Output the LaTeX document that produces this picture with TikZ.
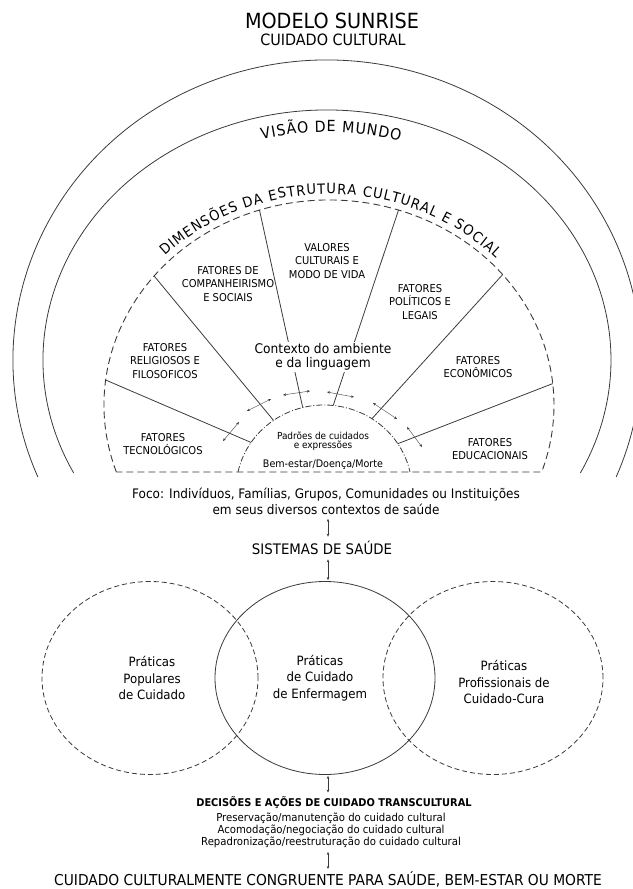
\documentclass[tikz,border=0pt]{standalone}
\usepackage{fontspec}
\setmainfont{DejaVu Sans}[FakeStretch=0.92]
\usetikzlibrary{arrows.meta,decorations.text,calc,shapes.geometric}

\begin{document}
\begin{tikzpicture}[x=1pt, y=-1pt,
    arcLine/.style={draw=lineColour, line width=0.8pt},
    dimLine/.style={draw=lineColour, line width=0.9pt, dash pattern=on 7pt off 4pt},
    careLine/.style={draw=lineColour, line width=0.8pt, dash pattern=on 6pt off 2pt on 1pt off 2pt},
    spoke/.style={draw=lineColour, line width=0.8pt},
    tinyArrow/.style={draw=lineColour, line width=0.4pt, {Stealth[length=3pt,width=2.5pt]}-{Stealth[length=3pt,width=2.5pt]}},
    linkArrow/.style={draw=lineColour, line width=0.4pt, shorten <=1pt, shorten >=1pt,
        {Stealth[length=3pt,width=2.5pt]}-{Stealth[length=3pt,width=2.5pt]}},
    practice/.style={ellipse, draw=lineColour, line width=0.8pt, inner sep=0pt, minimum height=193pt},
    factor/.style={align=center, font=\fontsize{10.8}{13.5}\selectfont},
    body/.style={align=center, font=\fontsize{12.8}{16.5}\selectfont}]
    \definecolor{lineColour}{HTML}{3A3A3A}

    \useasboundingbox (0,0) rectangle (632,889);

    % Title
    \node (title) at (332,21) {\fontsize{20.9}{22}\selectfont MODELO SUNRISE};
    \node (subtitle) at (333,40) {\fontsize{15.6}{17}\selectfont CUIDADO CULTURAL};

    % World view arcs
    \coordinate (wv) at (327,360);
    \draw[arcLine] (wv) ++(157.05:314 and 300)
        arc[start angle=157.05, end angle=382.95, x radius=314, y radius=300];
    \draw[arcLine] (wv) ++(153.13:284 and 250)
        arc[start angle=153.13, end angle=386.87, x radius=284, y radius=250];
    \path[decorate, decoration={text along path, text align=fit to path,
        text={|\fontsize{15.4}{16}\selectfont|VISÃO DE MUNDO}}]
        (wv) ++(255.5:260 and 228) arc[start angle=255.5, end angle=286.3, x radius=260, y radius=228];

    % Cultural and social structure dimensions
    \coordinate (dim) at (329,405);
    \draw[dimLine] (dim) ++(160.93:225 and 205) coordinate (dimL)
        arc[start angle=160.93, end angle=379.07, x radius=225, y radius=205] coordinate (dimR) -- cycle;
    \path[decorate, decoration={text along path, text align=fit to path,
        text={|\fontsize{14.2}{15}\selectfont|DIMENSÕES DA ESTRUTURA CULTURAL E SOCIAL}}]
        (dim) ++(225:232 and 211) arc[start angle=225, end angle=316, x radius=232, y radius=211];

    % Care patterns
    \coordinate (care) at (324,490);
    \draw[careLine] (care) ++(192.22:88 and 85)
        arc[start angle=192.22, end angle=347.78, x radius=88, y radius=85];

    % Spokes
    \foreach \a/\b in {187/214, 219/235, 252/256, 288/276, 320.5/303, 354/327}
        \draw[spoke] ($(dim)+(\a:225 and 205)$) -- ($(care)+(\b:88 and 85)$);

    % Small arrows
    \foreach \ax/\ay/\bx/\by in {223/441/239/422, 247/411/271/399, 283/395/310/391,
                                 327/392/354/397, 373/403/397/419, 407/427/422/447}
        \draw[tinyArrow] (\ax,\ay) -- (\bx,\by);

    % Factors
    \node[factor] (tec) at (163,444) {FATORES\\TECNOLÓGICOS};
    \node[factor] (rel) at (165,361) {FATORES\\RELIGIOSOS E\\FILOSOFICOS};
    \node[factor] (comp) at (228,284) {FATORES DE\\COMPANHEIRISMO\\E SOCIAIS};
    \node[factor] (val) at (327,261) {VALORES\\CULTURAIS E\\MODO DE VIDA};
    \node[factor] (pol) at (420,302) {FATORES\\POLÍTICOS E\\LEGAIS};
    \node[factor] (eco) at (478,367) {FATORES\\ECONÔMICOS};
    \node[factor] (edu) at (490,449) {FATORES\\EDUCACIONAIS};

    \node[fill=white, inner sep=1pt, align=center, font=\fontsize{13.3}{14.5}\selectfont] (ctx) at (323,357)
        {Contexto do ambiente\\e da linguagem};
    \node[align=center, font=\fontsize{9.7}{9.5}\selectfont] (pad) at (323,441)
        {Padrões de cuidados\\e expressões};
    \node[font=\fontsize{10.4}{12}\selectfont] (bem) at (323,465) {Bem-estar/Doença/Morte};

    % Focus and health systems
    \coordinate (col) at (328,0);
    \node[align=center, font=\fontsize{13.1}{16}\selectfont] (foco) at (326,501)
        {Foco: Indivíduos, Famílias, Grupos, Comunidades ou Instituições\\em seus diversos contextos de saúde};
    \node[font=\fontsize{14.5}{16}\selectfont] (sis) at (322,548) {SISTEMAS DE SAÚDE};

    % Practice circles
    \node[practice, dash pattern=on 5pt off 3pt, minimum width=216pt] (popC) at (150,678) {};
    \node[practice, minimum width=220pt] (enfC) at (325,678) {};
    \node[practice, dash pattern=on 5pt off 3pt, minimum width=220pt] (proC) at (493,678) {};
    \node[body] (pop) at (152,678) {Práticas\\Populares\\de Cuidado};
    \node[body] (enf) at (320,678) {Práticas\\de Cuidado\\de Enfermagem};
    \node[body] (pro) at (504,682) {Práticas\\Profissionais de\\Cuidado-Cura};

    \draw[linkArrow] (foco.south -| col) -- (sis.north -| col);
    \draw[linkArrow] (sis.south -| col) -- (enfC.north -| col);

    % Transcultural decisions
    \node[font=\bfseries\fontsize{10.7}{12}\selectfont] (dec) at (334,803) {DECISÕES E AÇÕES DE CUIDADO TRANSCULTURAL};
    \node[align=center, font=\fontsize{11}{12}\selectfont] (acts) at (331,830)
        {Preservação/manutenção do cuidado cultural\\Acomodação/negociação do cuidado cultural\\Repadronização/reestruturação do cuidado cultural};
    \node[inner sep=1pt, font=\fontsize{15}{16}\selectfont] (cong) at (328,879) {CUIDADO CULTURALMENTE CONGRUENTE PARA SAÚDE, BEM-ESTAR OU MORTE};

    \draw[linkArrow] (enfC.south -| col) -- (dec.north -| col);
    \draw[linkArrow] (acts.south -| col) -- (cong.north -| col);

\end{tikzpicture}
\end{document}
